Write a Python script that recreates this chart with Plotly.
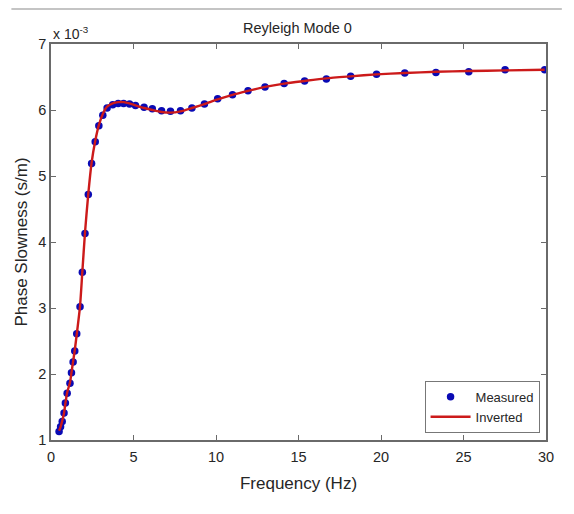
import plotly.graph_objects as go

# Frequencies (Hz) and phase slowness (x 10^-3 s/m)
freq = [0.49, 0.58, 0.68, 0.79, 0.87, 0.98, 1.15, 1.24, 1.34, 1.44, 1.56, 1.76,
        1.90, 2.06, 2.26, 2.46, 2.68, 2.90, 3.14, 3.40, 3.74, 4.07, 4.40, 4.76,
        5.12, 5.64, 6.14, 6.70, 7.24, 7.85, 8.54, 9.30, 10.10, 11.00, 11.94,
        12.97, 14.13, 15.37, 16.69, 18.16, 19.73, 21.44, 23.33, 25.32, 27.52, 29.92]
measured = [1.13, 1.20, 1.28, 1.41, 1.56, 1.71, 1.86, 2.02, 2.18, 2.35, 2.61, 3.02,
            3.54, 4.13, 4.72, 5.19, 5.52, 5.76, 5.92, 6.03, 6.08, 6.10, 6.10, 6.09,
            6.07, 6.04, 6.02, 5.99, 5.98, 5.99, 6.03, 6.09, 6.17, 6.23, 6.29,
            6.35, 6.40, 6.44, 6.47, 6.51, 6.54, 6.56, 6.57, 6.58, 6.61, 6.61]
inverted = [1.14, 1.20, 1.29, 1.41, 1.55, 1.72, 1.87, 2.02, 2.19, 2.36, 2.60, 3.03,
            3.55, 4.14, 4.73, 5.20, 5.53, 5.77, 5.94, 6.05, 6.10, 6.12, 6.12, 6.10,
            6.07, 6.03, 6.00, 5.97, 5.96, 5.98, 6.03, 6.09, 6.16, 6.23, 6.29,
            6.35, 6.40, 6.44, 6.48, 6.51, 6.54, 6.56, 6.58, 6.59, 6.60, 6.61]

xticks = [0, 5, 10, 15, 20, 25, 30]
yticks = [1, 2, 3, 4, 5, 6, 7]

FONT = "Liberation Sans, Arial, Helvetica, sans-serif"
TXT = "#262626"

W, H = 558, 498
L, R, T, B = 40, 18, 36, 66

fig = go.Figure()
fig.add_trace(go.Scatter(
    x=freq, y=measured, mode="markers", name="Measured",
    marker=dict(color="#0a0ab4", size=7.5, line=dict(width=0)),
))
fig.add_trace(go.Scatter(
    x=freq, y=inverted, mode="lines", name="Inverted",
    line=dict(color="#cc1a1a", width=2.4, shape="spline", smoothing=0.6),
))

axis_common = dict(
    showline=True, linecolor="#6a6a6a", linewidth=1.5, mirror="ticks",
    ticks="inside", ticklen=5, tickcolor="#6a6a6a", tickwidth=1,
    showgrid=False, zeroline=False,
    tickfont=dict(family=FONT, size=14.5, color=TXT),
)

fig.update_layout(
    width=W, height=H,
    margin=dict(l=L, r=R, t=T, b=B),
    paper_bgcolor="white", plot_bgcolor="white",
    font=dict(family=FONT, color=TXT),
    title=dict(text="Reyleigh Mode 0", xref="container", x=289.5 / W, xanchor="center",
               yref="container", y=1 - 19.5 / H, yanchor="middle",
               font=dict(family=FONT, size=14.5, color=TXT)),
    xaxis=dict(range=[0, 30], tickvals=xticks, ticklabelstandoff=3,
               title=dict(text="Frequency (Hz)", font=dict(family=FONT, size=17, color=TXT), standoff=13),
               **axis_common),
    yaxis=dict(range=[1, 7], tickvals=yticks,
               title=dict(text="Phase Slowness (s/m)", font=dict(family=FONT, size=17, color=TXT), standoff=6),
               **axis_common),
    legend=dict(x=0.987, y=0.018, xanchor="right", yanchor="bottom",
                bgcolor="white", bordercolor="#777777", borderwidth=1,
                font=dict(family=FONT, size=13, color=TXT),
                tracegroupgap=0, itemwidth=40),
    showlegend=True,
)

fig.add_annotation(text="x 10<sup>-3</sup>", xref="paper", yref="paper", x=0.0, y=1.0,
                   xanchor="left", yanchor="bottom", showarrow=False, yshift=0,
                   font=dict(family=FONT, size=14, color=TXT))

# thin gray rule at the top of the image
fig.add_shape(type="line", xref="paper", yref="paper",
              x0=-L / 500, x1=(556 - L) / 500, y0=1 + (T - 1) / 396, y1=1 + (T - 1) / 396,
              line=dict(color="#b0b0b0", width=1.5))

fig.write_html("out.html")
